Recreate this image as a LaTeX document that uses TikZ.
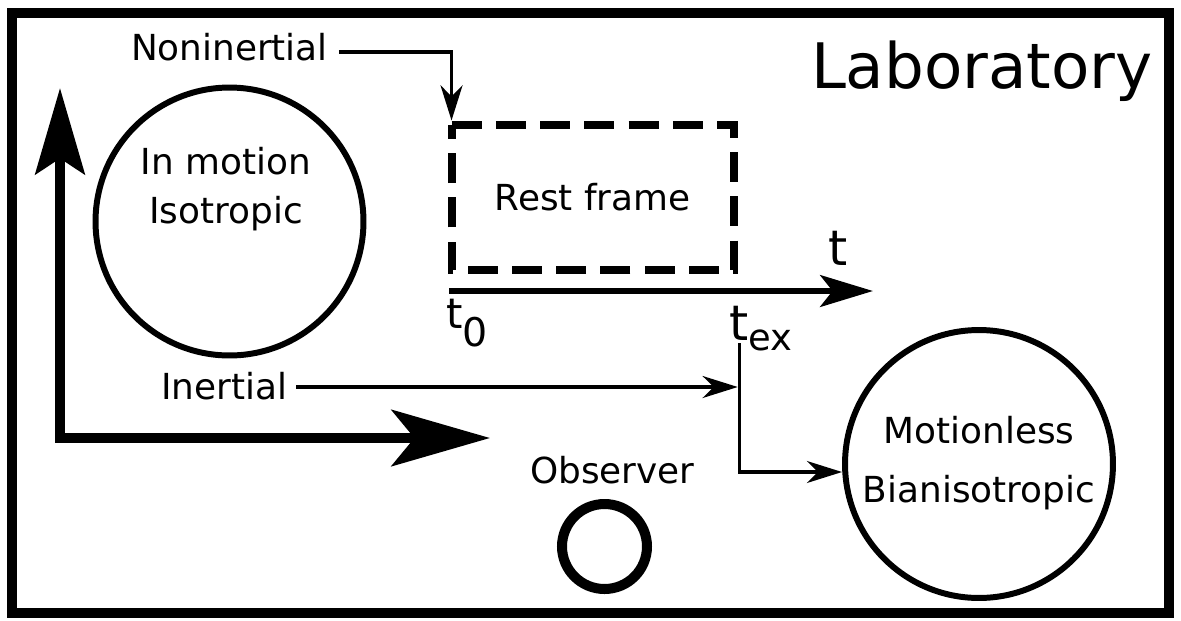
\documentclass[tikz,border=0pt]{standalone}
\usepackage{fontspec}
\setmainfont{DejaVu Sans}
\usetikzlibrary{arrows.meta}
\begin{document}
\begin{tikzpicture}[x=0.02cm,y=-0.02cm,
  txt/.style={inner sep=0pt, outer sep=0pt, font=\fontsize{20.4pt}{24pt}\selectfont},
  ring/.style={circle, draw, line width=3.4pt, inner sep=0pt, minimum size=5.36cm},
  thinarrow/.style={line width=1.9pt, -{Stealth[length=20pt,width=12.5pt,inset=6.3pt]}},
  restbox/.style={inner sep=0pt, outer sep=0pt,
    minimum width=5.65cm, minimum height=2.91cm,
    font=\fontsize{20.4pt}{24pt}\selectfont},
  dashbox/.style={line width=4.55pt, line join=miter, dash pattern=on 17.07pt off 8.14pt},
  bigaxis/.style={line width=5.7pt, line join=miter,
    {Stealth[length=49pt,width=28pt,inset=9pt]}-{Stealth[length=56pt,width=32pt,inset=13pt]}},
  timeaxis/.style={line width=3.8pt, -{Stealth[length=30pt,width=18pt,inset=7pt]}}
]
\useasboundingbox (0,0) rectangle (1181,620);
% laboratory frame
\draw[line width=5.7pt] (12,13) rectangle (1169,613);
\node[txt, anchor=base west, font=\fontsize{35.7pt}{36pt}\selectfont] (lab) at (811,88) {Laboratory};

% L-shaped axes
\coordinate (axy) at (60,88);
\coordinate (ax0) at (60,438);
\coordinate (axx) at (490,438);
\draw[bigaxis] (axy) -- (ax0) -- (axx);

% circle 1
\node[ring] (c1) at (229.5,221.5) {};
\node[txt, align=center, font=\fontsize{20.4pt}{27.9pt}\selectfont] (c1t) at (226,189.5) {In motion\\Isotropic};

% rest frame
\node[restbox] (rest) at (592.75,197.25) {Rest frame};
\draw[dashbox] (rest.north west) -- (rest.north east) -- (rest.south east) -- (rest.south west) -- cycle;
\node[txt, anchor=base west] (non) at (131,60) {Noninertial};
\draw[thinarrow, shorten >=2.3pt] ([shift={(11,-8)}]non.base east) -| (rest.north west);

% time axis
\coordinate (t0) at (449,291);
\coordinate (tend) at (873,291);
\draw[timeaxis] (t0) -- (tend);
\node[txt, anchor=base west, font=\fontsize{27.8pt}{28pt}\selectfont] (tlab) at (828,265) {t};
\node[txt, anchor=base west, font=\fontsize{23.8pt}{24pt}\selectfont] (t0lab) at (446,328)
  {t\raisebox{-10.8pt}{\fontsize{22.5pt}{23pt}\selectfont 0}};
\node[txt, anchor=base west, font=\fontsize{27.8pt}{28pt}\selectfont] (texlab) at (729,340)
  {t\raisebox{-5.7pt}{\fontsize{21pt}{21pt}\selectfont ex}};

% circle 2
\node[ring] (c2) at (979,464) {};
\node[txt, align=center, font=\fontsize{20.4pt}{34pt}\selectfont] (c2t) at (979,463) {Motionless\\Bianisotropic};

% branch lines
\coordinate (br) at (739.5,343);
\coordinate (hit) at (739.5,387);
\draw[thinarrow] (br) |- ([shift={(0,8)}]c2.west);
\node[txt, anchor=base west] (inert) at (161,399) {Inertial};
\draw[thinarrow, shorten >=1pt] ([shift={(9,-12)}]inert.base east) -- (hit);

% observer
\node[txt, anchor=base] (obs) at (612.5,483) {Observer};
\node[circle, draw, line width=5.7pt, inner sep=0pt, minimum size=1.7cm] (obsc) at (604.5,546.5) {};
\end{tikzpicture}
\end{document}
